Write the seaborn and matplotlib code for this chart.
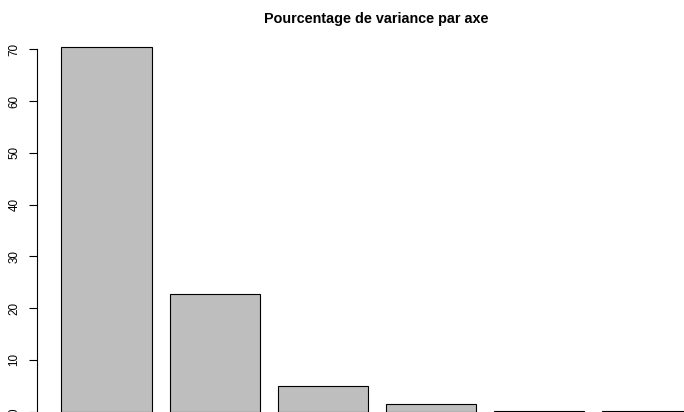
import matplotlib
matplotlib.use("Agg")
import matplotlib.pyplot as plt
import seaborn as sns
import pandas as pd

# percentage of variance explained by each axis
axes_names = ["Dim1", "Dim2", "Dim3", "Dim4", "Dim5", "Dim6"]
variance_pct = [70.4, 22.7, 5.0, 1.6, 0.2, 0.1]
yticks = [0, 10, 20, 30, 40, 50, 60, 70]
title = "Pourcentage de variance par axe"

df = pd.DataFrame({"axe": axes_names, "pct": variance_pct})

sns.set_style("white")
plt.rcParams['font.family'] = ['Liberation Sans', 'DejaVu Sans']
plt.rcParams['text.color'] = 'black'
plt.rcParams['ytick.color'] = 'black'

W, H = 684, 412
fig = plt.figure(figsize=(W / 100, H / 100), dpi=100)
ax = fig.add_axes([37 / W, 0, (W - 37) / W, (H - 20) / H])

sns.barplot(data=df, x="axe", y="pct", color="#BEBEBE", saturation=1,
            width=1 / 1.2, edgecolor="black", linewidth=0.8, ax=ax)

px_per_unit = 5.18
ax.set_ylim(-(H - 411.8) / px_per_unit, (411.8 - 20) / px_per_unit)
ax.set_xlim((37 - 106.5) / 108, (W - 106.5) / 108)

for s in ["top", "right", "bottom"]:
    ax.spines[s].set_visible(False)
ax.spines["left"].set_bounds(0, 70)
ax.spines["left"].set_color("black")
ax.spines["left"].set_linewidth(0.8)

ax.set_xticks([])
ax.set_yticks(yticks)
ax.set_yticklabels([str(t) for t in yticks], rotation=90, va="center", fontsize=8.4)
ax.tick_params(axis="y", left=True, length=6, width=0.8, color="black",
               labelcolor="black", pad=6)
ax.set_xlabel("")
ax.set_ylabel("")

fig.text(376 / W, 1 - 19 / H, title, ha="center", va="center",
         fontsize=10.4, fontweight="bold", color="black")

fig.savefig("out.png", dpi=100)
